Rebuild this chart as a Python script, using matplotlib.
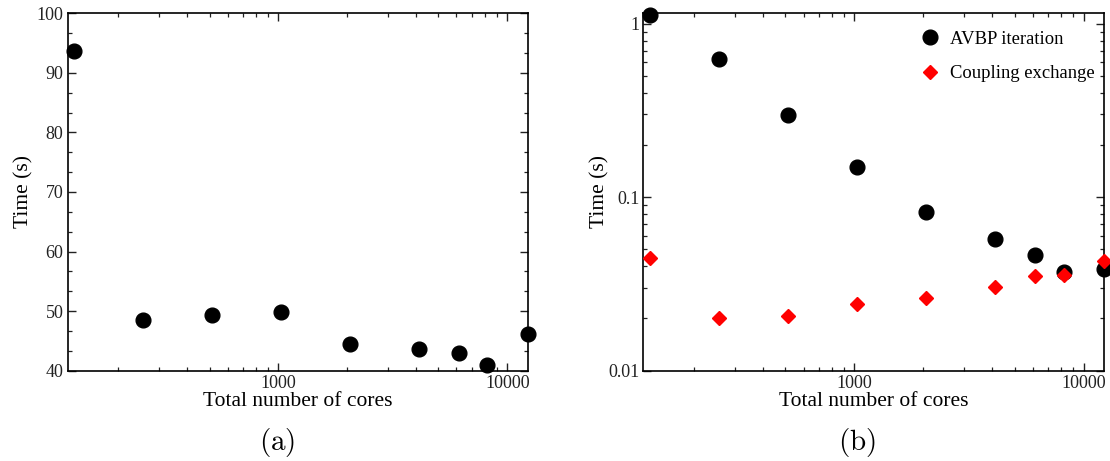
import numpy as np
import matplotlib
matplotlib.use("Agg")
import matplotlib.pyplot as plt
from matplotlib.ticker import LogLocator, FuncFormatter, NullFormatter, MultipleLocator

plt.rcParams['font.family'] = ['Liberation Serif', 'DejaVu Serif']
plt.rcParams['mathtext.fontset'] = 'cm'

# data
cores = [128, 256, 512, 1024, 2048, 4096, 6144, 8192, 12288]
time_total = [93.7, 48.5, 49.4, 49.9, 44.4, 43.6, 43.0, 40.9, 46.2]
time_avbp = [1.13, 0.625, 0.297, 0.150, 0.0822, 0.0575, 0.0463, 0.0372, 0.0385]
time_coupling = [0.0445, 0.0200, 0.0207, 0.0244, 0.0264, 0.0303, 0.0352, 0.0355, 0.0431]

fig = plt.figure(figsize=(11.1, 4.61), dpi=100)
ax1 = fig.add_axes([0.0610, 0.1959, 0.4144, 0.7753])
ax2 = fig.add_axes([0.5797, 0.1959, 0.4149, 0.7753])


def style_axes(ax):
    ax.set_xscale('log')
    ax.set_xlim(120, 12288)
    ax.xaxis.set_major_locator(LogLocator(base=10))
    ax.xaxis.set_minor_locator(LogLocator(base=10, subs=np.arange(2, 10)))
    ax.xaxis.set_major_formatter(FuncFormatter(lambda v, p: '%d' % v))
    ax.xaxis.set_minor_formatter(NullFormatter())
    ax.tick_params(which='both', direction='in', top=True, right=True,
                   labelsize=13, colors='#222222', pad=3)
    ax.tick_params(which='major', length=6, width=1.0)
    ax.tick_params(which='minor', length=3, width=0.9)
    for s in ax.spines.values():
        s.set_linewidth(1.2)
    ax.set_xlabel('Total number of cores', fontsize=15.5, labelpad=0)
    ax.set_ylabel('Time (s)', fontsize=15.5)
    ax.yaxis.set_label_coords(-0.074, 0.5)


# (a) total time
style_axes(ax1)
ax1.plot(cores, time_total, 'o', color='black', markersize=10.6, clip_on=False, zorder=5)
ax1.set_ylim(40, 100)
ax1.yaxis.set_major_locator(MultipleLocator(10))
ax1.yaxis.set_minor_locator(MultipleLocator(10 / 3))

# (b) avbp iteration vs coupling exchange
style_axes(ax2)
ax2.plot(cores, time_avbp, 'o', color='black', markersize=10.6, clip_on=False,
         zorder=5, label='AVBP iteration')
ax2.plot(cores, time_coupling, 'D', color='red', markersize=7.6, clip_on=False,
         zorder=6, label='Coupling exchange')
ax2.set_yscale('log')
ax2.set_ylim(0.01, 1.15)
ax2.yaxis.set_major_locator(LogLocator(base=10))
ax2.yaxis.set_minor_locator(LogLocator(base=10, subs=np.arange(2, 10)))
ax2.yaxis.set_major_formatter(FuncFormatter(lambda v, p: '%g' % v))
ax2.yaxis.set_minor_formatter(NullFormatter())
ax2.legend(loc='upper right', frameon=False, fontsize=13.4, labelspacing=0.95,
           handletextpad=0.5, borderaxespad=0.4, handlelength=1.2,
           bbox_to_anchor=(1.013, 0.993))

fig.text(0.250, 0.040, r'$\mathrm{(a)}$', fontsize=21, ha='center', va='center')
fig.text(0.772, 0.040, r'$\mathrm{(b)}$', fontsize=21, ha='center', va='center')

fig.savefig('out.png', dpi=100)
